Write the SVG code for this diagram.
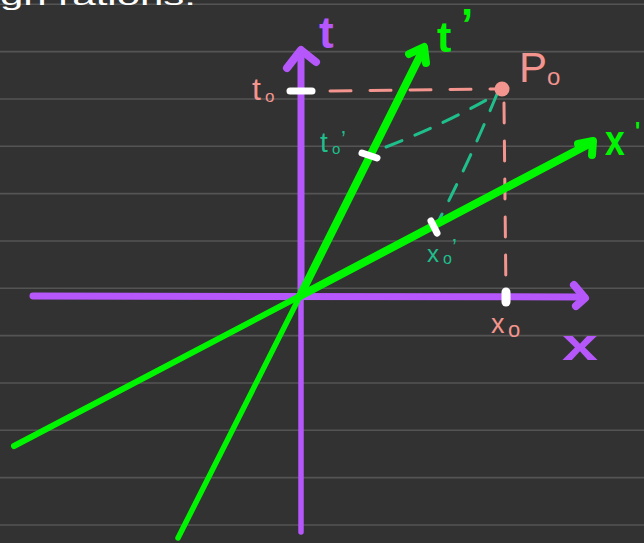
<svg xmlns="http://www.w3.org/2000/svg" width="644" height="543" viewBox="0 0 644 543">
<style>
.rule{stroke:#545454;stroke-width:1.6}
.ax{fill:none;stroke-linecap:round;stroke-linejoin:round}
.pur{stroke:#b657fb}
.grn{stroke:#00f500}
.pink{stroke:#f3958e}
.teal{stroke:#1fbf8c}
.wt{stroke:#ffffff;stroke-linecap:round;fill:none}
text{font-family:"Liberation Sans","DejaVu Sans",sans-serif}
.lp{fill:#b657fb;font-weight:bold}
.lg{fill:#00f500;font-weight:bold}
.lk{fill:#f3958e}
.lt{fill:#1fbf8c}
</style>
<rect width="644" height="543" fill="#323232"/>
<g id="ruling">
<line class="rule" x1="0" y1="4.3" x2="644" y2="4.3"/>
<line class="rule" x1="0" y1="51.6" x2="644" y2="51.6"/>
<line class="rule" x1="0" y1="99" x2="644" y2="99"/>
<line class="rule" x1="0" y1="146.3" x2="644" y2="146.3"/>
<line class="rule" x1="0" y1="193.6" x2="644" y2="193.6"/>
<line class="rule" x1="0" y1="241" x2="644" y2="241"/>
<line class="rule" x1="0" y1="288.3" x2="644" y2="288.3"/>
<line class="rule" x1="0" y1="335.6" x2="644" y2="335.6"/>
<line class="rule" x1="0" y1="383" x2="644" y2="383"/>
<line class="rule" x1="0" y1="430.3" x2="644" y2="430.3"/>
<line class="rule" x1="0" y1="477.6" x2="644" y2="477.6"/>
<line class="rule" x1="0" y1="525" x2="644" y2="525"/>
</g>
<text id="heading" x="0" y="5" font-size="26" fill="#ffffff" textLength="196" lengthAdjust="spacingAndGlyphs">gn rations:</text>
<g id="connectors">
<g id="projections">
<path class="ax pink" d="M330,91 L497,89" stroke-width="3" stroke-dasharray="21 19"/>
<path class="ax pink" d="M504,103 L506,296" stroke-width="3" stroke-dasharray="20 18"/>
<path class="ax teal" d="M386,147 Q445,124 497,94" stroke-width="3" stroke-dasharray="17 14"/>
<path class="ax teal" d="M497,94 Q470,160 438,222" stroke-width="3" stroke-dasharray="18 15"/>
</g>
<g id="axis-x">
<line class="ax pur" x1="33" y1="296" x2="584" y2="297" stroke-width="7"/>
<path class="ax pur" d="M574,285 L585,298 L576,306" stroke-width="8"/>
</g>
<g id="axis-t">
<line class="ax pur" x1="301" y1="532" x2="301" y2="296" stroke-width="5.5"/>
<line class="ax pur" x1="301" y1="296" x2="301" y2="52" stroke-width="7"/>
<path class="ax pur" d="M287,68 L301,50 L316,62" stroke-width="8"/>
</g>
<g id="axis-xprime">
<line class="ax grn" x1="14" y1="446" x2="300" y2="296" stroke-width="6"/>
<line class="ax grn" x1="300" y1="296" x2="591" y2="143" stroke-width="8"/>
<path class="ax grn" d="M578,144 L593,141 L592,155" stroke-width="8"/>
</g>
<g id="axis-tprime">
<line class="ax grn" x1="178" y1="538" x2="300" y2="296" stroke-width="5.5"/>
<line class="ax grn" x1="300" y1="296" x2="423" y2="50" stroke-width="8"/>
<path class="ax grn" d="M409,54 L424,47 L426,63" stroke-width="8"/>
</g>
</g>
<g id="ticks">
<line class="wt" x1="290" y1="91" x2="312" y2="91" stroke-width="7"/>
<line class="wt" x1="506" y1="292" x2="506" y2="302" stroke-width="9"/>
<line class="wt" x1="362" y1="153" x2="377" y2="158" stroke-width="7"/>
<line class="wt" x1="431" y1="221" x2="437" y2="233" stroke-width="7"/>
</g>
<g id="P0">
<circle cx="502" cy="89" r="7.5" fill="#f3958e"/>
<text class="lk" x="519" y="82" font-size="42">P<tspan x="547" y="85" font-size="24">o</tspan></text>
</g>
<g id="labels">
<text id="lbl-t" class="lp" x="319" y="48" font-size="44">t</text>
<text id="lbl-tprime" class="lg" x="437" y="52" font-size="43">t<tspan x="461" y="40" font-size="44">’</tspan></text>
<text id="lbl-x" class="lp" x="562" y="360" font-size="44" textLength="36" lengthAdjust="spacingAndGlyphs">x</text>
<text id="lbl-xprime" class="lg" x="605" y="155" font-size="42" textLength="25" lengthAdjust="spacingAndGlyphs">x<tspan x="635" y="140" font-size="26">'</tspan></text>
<text id="lbl-t0" class="lk" x="252" y="100" font-size="32">t<tspan x="265" y="102" font-size="17">o</tspan></text>
<text id="lbl-t0prime" class="lt" x="320" y="152" font-size="28">t<tspan x="332" y="154" font-size="15">o</tspan><tspan x="341" y="146" font-size="22">’</tspan></text>
<text id="lbl-x0prime" class="lt" x="427" y="262" font-size="24">x<tspan x="443" y="264" font-size="16">o</tspan><tspan x="452" y="254" font-size="22">’</tspan></text>
<text id="lbl-x0" class="lk" x="491" y="333" font-size="27">x<tspan x="508" y="337" font-size="22">o</tspan></text>
</g>
</svg>
